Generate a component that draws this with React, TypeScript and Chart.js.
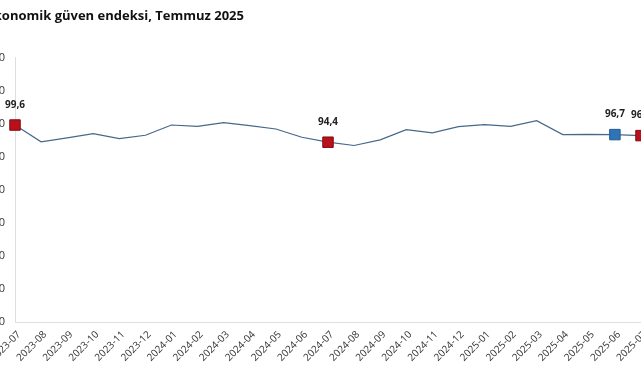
import React, { useEffect, useRef } from "react";
import { Chart, registerables } from "chart.js";

Chart.register(...registerables);

const titleText = "Ekonomik güven endeksi, Temmuz 2025";

const categories = [
  "2023-07", "2023-08", "2023-09", "2023-10", "2023-11", "2023-12",
  "2024-01", "2024-02", "2024-03", "2024-04", "2024-05", "2024-06",
  "2024-07", "2024-08", "2024-09", "2024-10", "2024-11", "2024-12",
  "2025-01", "2025-02", "2025-03", "2025-04", "2025-05", "2025-06",
  "2025-07",
];

const values = [
  99.6, 94.5, 95.7, 97.0, 95.5, 96.5,
  99.6, 99.2, 100.3, 99.4, 98.4, 95.9,
  94.4, 93.4, 95.1, 98.2, 97.2, 99.1,
  99.7, 99.2, 100.9, 96.7, 96.8, 96.7,
  96.4,
];

const yTicks = [40, 50, 60, 70, 80, 90, 100, 110, 120];

const redMarkers = [0, 12, 24];
const blueMarkers = [23];
const labelledPoints = [0, 12, 23, 24];

const fmt = (v: number) => v.toFixed(1).replace(".", ",");

const valueLabels = {
  id: "valueLabels",
  afterDatasetsDraw(chart: any) {
    const meta = chart.getDatasetMeta(0);
    const ctx = chart.ctx;
    ctx.save();
    ctx.font = "bold 10px 'Open Sans', 'DejaVu Sans', sans-serif";
    ctx.fillStyle = "#222222";
    ctx.textAlign = "center";
    ctx.textBaseline = "middle";
    labelledPoints.forEach((i) => {
      const el = meta.data[i];
      if (!el) return;
      ctx.fillText(fmt(values[i]), el.x, el.y - 20);
    });
    ctx.restore();
  },
};

// rotated category labels, anchored slightly right of each tick
const xLabels = {
  id: "xLabels",
  afterDraw(chart: any) {
    const sx = chart.scales.x;
    const ctx = chart.ctx;
    ctx.save();
    ctx.font = "10px 'Open Sans', sans-serif";
    ctx.fillStyle = "#333333";
    ctx.textAlign = "right";
    ctx.textBaseline = "middle";
    categories.forEach((c, i) => {
      const x = sx.getPixelForValue(i);
      ctx.save();
      ctx.translate(x + 4, sx.top + 11);
      ctx.rotate(-Math.PI / 4);
      ctx.fillText(c, 0, 0);
      ctx.restore();
    });
    ctx.restore();
  },
};

export default function App() {
  const ref = useRef<HTMLCanvasElement | null>(null);

  useEffect(() => {
    if (!ref.current) return;
    const chart = new Chart(ref.current, {
      type: "line",
      data: {
        labels: categories,
        datasets: [
          {
            data: values,
            borderColor: "#46688a",
            borderWidth: 1.2,
            tension: 0,
            fill: false,
            clip: false as any,
            pointStyle: "rect",
            pointRadius: (c: any) =>
              redMarkers.includes(c.dataIndex) || blueMarkers.includes(c.dataIndex) ? 7.4 : 0,
            pointHoverRadius: 0,
            pointBackgroundColor: (c: any) =>
              blueMarkers.includes(c.dataIndex) ? "#2e75b6" : "#b8111b",
            pointBorderColor: (c: any) =>
              blueMarkers.includes(c.dataIndex) ? "#1f5b94" : "#85080f",
            pointBorderWidth: 1,
          },
        ],
      },
      options: {
        responsive: false,
        animation: false,
        devicePixelRatio: 1,
        layout: { padding: { left: 11.5, right: 34, top: 0, bottom: 0 } },
        plugins: {
          legend: { display: false },
          tooltip: { enabled: false },
          title: {
            display: true,
            text: titleText,
            align: "start",
            color: "#111111",
            font: { family: "'Open Sans', sans-serif", size: 13, weight: "bold" },
            padding: { top: 8, bottom: 34 },
          },
        },
        scales: {
          x: {
            offset: false,
            grid: { display: false, drawTicks: false },
            border: { display: true, color: "#dedede", width: 1 },
            ticks: { display: false, autoSkip: false },
            afterFit: (s: any) => {
              s.height = 58;
            },
          },
          y: {
            min: 40,
            max: 120,
            grid: { display: false, drawTicks: false },
            border: { display: true, color: "#dedede", width: 1 },
            ticks: {
              padding: 10,
              color: "#333333",
              font: { family: "'Open Sans', sans-serif", size: 11 },
            },
            afterBuildTicks: (s: any) => {
              s.ticks = yTicks.map((v) => ({ value: v }));
            },
            afterFit: (s: any) => {
              s.width = 28.5;
            },
          },
        },
      },
      plugins: [valueLabels, xLabels],
    });
    return () => chart.destroy();
  }, []);

  return (
    <div
      style={{
        position: "fixed",
        left: 0,
        top: 0,
        width: 641,
        height: 380,
        overflow: "hidden",
        background: "#ffffff",
      }}
    >
      <canvas
        ref={ref}
        width={700}
        height={380}
        style={{ position: "absolute", left: -25, top: 0, width: 700, height: 380 }}
      />
    </div>
  );
}
